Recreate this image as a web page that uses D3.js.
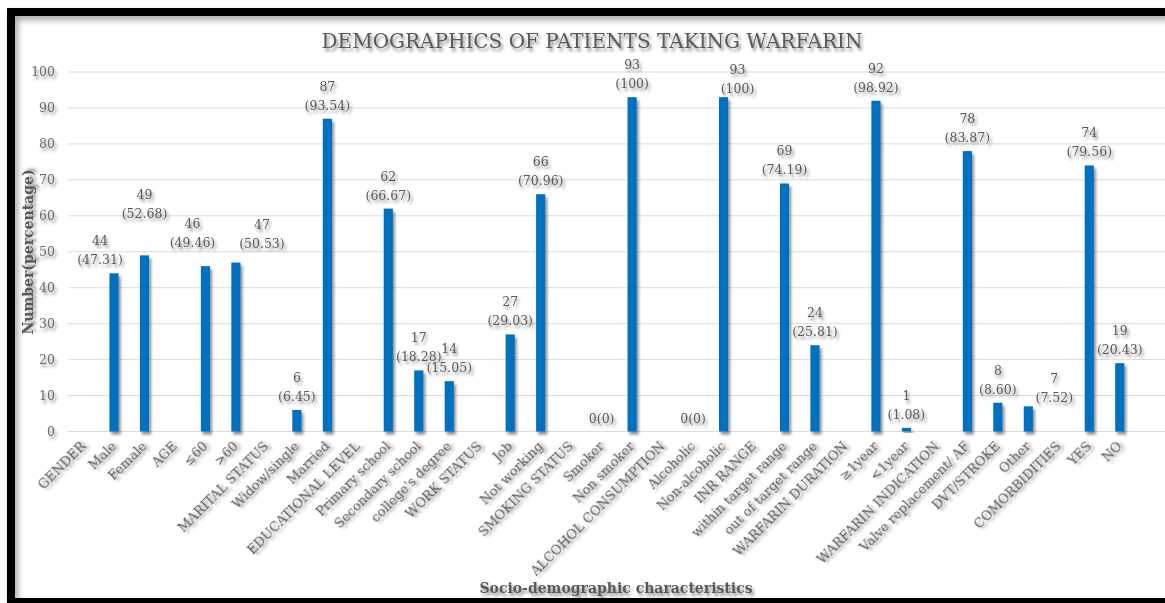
<!DOCTYPE html>
<html>
<head>
<meta charset="utf-8">
<script src="https://cdn.jsdelivr.net/npm/d3@7"></script>
<style>
  body { margin: 0; background: #fff; }
  svg { display: block; }
</style>
</head>
<body>
<div id="chart"></div>
<script>
// categories on the x axis (group headers have no bar)
var categories = ["GENDER", "Male", "Female", "AGE", "\u226460", ">60", "MARITAL STATUS", "Widow/single", "Married",
  "EDUCATIONAL LEVEL", "Primary school", "Secondary school", "college's degree", "WORK STATUS", "Job", "Not working",
  "SMOKING STATUS", "Smoker", "Non smoker", "ALCOHOL CONSUMPTION", "Alcoholic", "Non-alcoholic", "INR RANGE",
  "within target range", "out of target range", "WARFARIN DURATION", "\u22651year", "<1year", "WARFARIN INDICATION",
  "Valve replacement/ AF", "DVT/STROKE", "Other", "COMORBIDITIES", "YES", "NO"];
var counts = [null, 44, 49, null, 46, 47, null, 6, 87,
  null, 62, 17, 14, null, 27, 66,
  null, 0, 93, null, 0, 93, null,
  69, 24, null, 92, 1, null,
  78, 8, 7, null, 74, 19];
var percents = [null, "47.31", "52.68", null, "49.46", "50.53", null, "6.45", "93.54",
  null, "66.67", "18.28", "15.05", null, "29.03", "70.96",
  null, "0", "100", null, "0", "100", null,
  "74.19", "25.81", null, "98.92", "1.08", null,
  "83.87", "8.60", "7.52", null, "79.56", "20.43"];
var yTicks = [0, 10, 20, 30, 40, 50, 60, 70, 80, 90, 100];

var W = 1165, H = 603;
var plot = {left: 68.3, right: 1135, top: 72, bottom: 431.5};

// hand nudges for labels that sit off their bar in the original
var labelNudge = {
  "Male": [-14, 0], "Female": [0, -28], "\u226460": [-13, -10], ">60": [26, -6],
  "Non-alcoholic": [14, 5], "Other": [26, 5]
};

var svg = d3.select("#chart").append("svg")
  .attr("width", W).attr("height", H);

var defs = svg.append("defs");
var sh = defs.append("filter").attr("id", "shadow")
  .attr("x", "-20%").attr("y", "-20%").attr("width", "160%").attr("height", "160%");
sh.append("feDropShadow").attr("dx", 2).attr("dy", 3).attr("stdDeviation", 1.6)
  .attr("flood-color", "#000").attr("flood-opacity", 0.45);
var fsh = defs.append("filter").attr("id", "frameShadow")
  .attr("x", "-5%").attr("y", "-5%").attr("width", "110%").attr("height", "110%");
fsh.append("feDropShadow").attr("dx", 3).attr("dy", 4).attr("stdDeviation", 3)
  .attr("flood-color", "#000").attr("flood-opacity", 0.35);

var slab = "'DejaVu Serif', serif";

var x = d3.scaleBand().domain(categories).range([plot.left, plot.right]).padding(0);
var y = d3.scaleLinear().domain([0, 100]).range([plot.bottom, plot.top]);
var barW = x.bandwidth() * 0.3;

// frame
svg.append("rect")
  .attr("x", 11).attr("y", 12).attr("width", 1220).attr("height", 590)
  .attr("fill", "none").attr("stroke", "#000").attr("stroke-width", 8)
  .attr("filter", "url(#frameShadow)");

// gridlines
svg.append("g").selectAll("line").data(yTicks).enter().append("line")
  .attr("x1", plot.left).attr("x2", W)
  .attr("y1", function(d) { return y(d); }).attr("y2", function(d) { return y(d); })
  .attr("stroke", "#dcdcdc").attr("stroke-width", 1);

// y tick labels
svg.append("g").selectAll("text").data(yTicks).enter().append("text")
  .attr("x", 55).attr("y", function(d) { return y(d); })
  .attr("dy", "0.35em").attr("text-anchor", "end")
  .style("font-family", slab).style("font-size", "12.5px").attr("fill", "#6b6b6b")
  .attr("filter", "url(#shadow)")
  .text(function(d) { return d; });

var data = categories.map(function(c, i) {
  return {name: c, count: counts[i], pct: percents[i]};
});
var bars = data.filter(function(d) { return d.count !== null; });

// bars
svg.append("g").selectAll("rect").data(bars).enter().append("rect")
  .attr("x", function(d) { return x(d.name) + x.bandwidth() / 2 - barW / 2; })
  .attr("y", function(d) { return y(d.count); })
  .attr("width", barW)
  .attr("height", function(d) { return y(0) - y(d.count); })
  .attr("fill", "#0070C0")
  .attr("filter", "url(#shadow)");

// value labels
var lab = svg.append("g")
  .style("font-family", slab).style("font-size", "12.5px").attr("fill", "#595959")
  .attr("filter", "url(#shadow)");
bars.forEach(function(d) {
  var n = labelNudge[d.name] || [0, 0];
  var cx = x(d.name) + x.bandwidth() / 2 + n[0];
  var base = y(d.count) - 9 + n[1];
  if (d.count === 0) {
    lab.append("text").attr("x", cx).attr("y", base).attr("text-anchor", "middle")
      .text(d.count + "(" + d.pct + ")");
  } else {
    lab.append("text").attr("x", cx).attr("y", base - 19).attr("text-anchor", "middle").text(d.count);
    lab.append("text").attr("x", cx).attr("y", base).attr("text-anchor", "middle").text("(" + d.pct + ")");
  }
});

// x tick labels, rotated
svg.append("g").selectAll("text").data(categories).enter().append("text")
  .attr("transform", function(d) {
    return "translate(" + (x(d) + x.bandwidth() / 2 + 3) + "," + 447 + ") rotate(-45)";
  })
  .attr("text-anchor", "end")
  .style("font-family", slab).style("font-size", "13px").attr("fill", "#595959")
  .attr("filter", "url(#shadow)")
  .text(function(d) { return d; });

// titles
svg.append("text").attr("x", 592).attr("y", 48).attr("text-anchor", "middle")
  .style("font-family", slab).style("font-size", "20px").attr("fill", "#595959")
  .attr("filter", "url(#shadow)")
  .text("DEMOGRAPHICS OF PATIENTS TAKING WARFARIN");

svg.append("text").attr("transform", "translate(33,252) rotate(-90)").attr("text-anchor", "middle")
  .style("font-family", slab).style("font-size", "14px").style("font-weight", "bold").attr("fill", "#595959")
  .attr("filter", "url(#shadow)")
  .text("Number(percentage)");

svg.append("text").attr("x", 616).attr("y", 593).attr("text-anchor", "middle")
  .style("font-family", slab).style("font-size", "14px").style("font-weight", "bold").attr("fill", "#595959")
  .attr("filter", "url(#shadow)")
  .text("Socio-demographic characteristics");
</script>
</body>
</html>
